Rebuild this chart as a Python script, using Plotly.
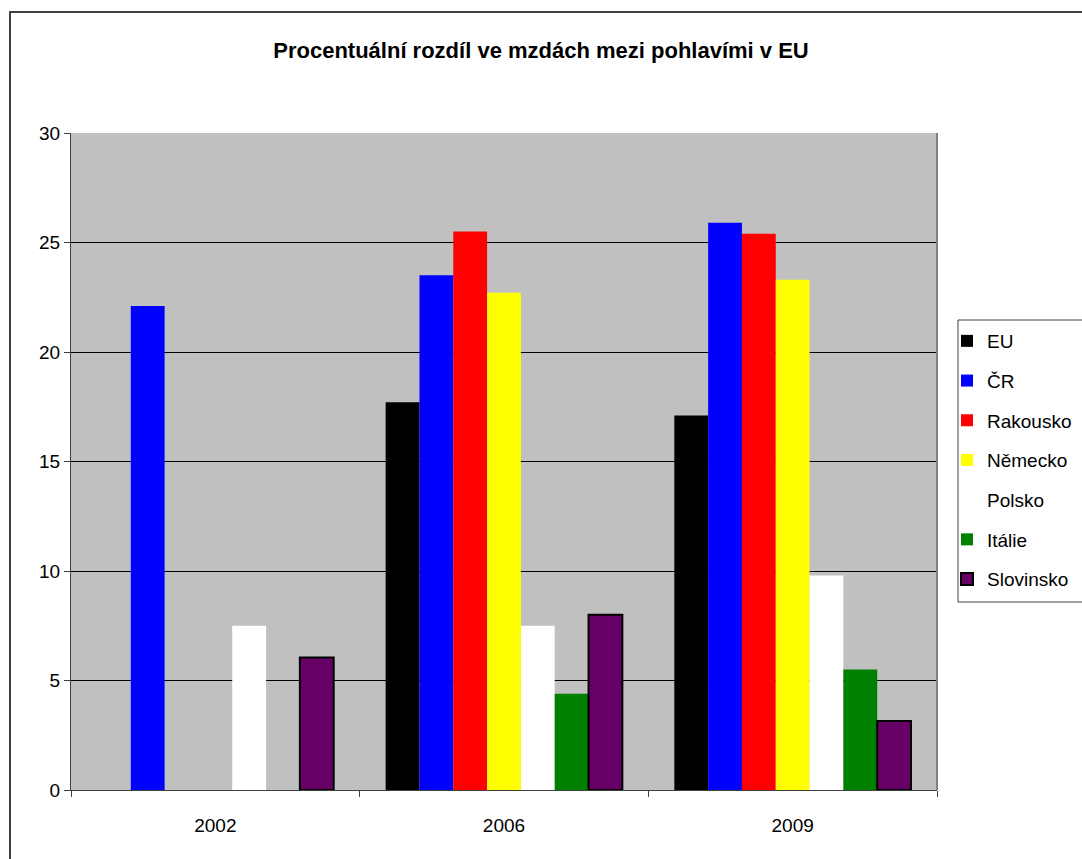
import plotly.graph_objects as go

years = ["2002", "2006", "2009"]
series_names = ["EU", "ČR", "Rakousko", "Německo", "Polsko", "Itálie", "Slovinsko"]
eu = [None, 17.7, 17.1]
cr = [22.1, 23.5, 25.9]
rakousko = [None, 25.5, 25.4]
nemecko = [None, 22.7, 23.3]
polsko = [7.5, 7.5, 9.8]
italie = [None, 4.4, 5.5]
slovinsko = [6.05, 8.0, 3.15]
colors = ["#000000", "#0000FF", "#FF0000", "#FFFF00", "#FFFFFF", "#008000", "#660066"]
values = [eu, cr, rakousko, nemecko, polsko, italie, slovinsko]

fig = go.Figure()
for i, (name, vals, col) in enumerate(zip(series_names, values, colors)):
    line = dict(color="#000000", width=2) if name == "Slovinsko" else dict(width=0)
    fig.add_trace(go.Bar(x=years, y=vals, name=name, legendgroup=name,
                         marker=dict(color=col, line=line)))

fig.update_layout(
    width=1082, height=859,
    barmode="group", bargap=0.18, bargroupgap=0,
    paper_bgcolor="white", plot_bgcolor="#C0C0C0",
    margin=dict(l=71, r=145, t=133, b=69, autoexpand=False),
    font=dict(family="Liberation Sans, Arial", color="black", size=19),
    title=dict(text="<b>Procentuální rozdíl ve mzdách mezi pohlavími v EU</b>",
               x=0.5, xref="container", y=1 - 50 / 859, yanchor="middle",
               font=dict(size=22)),
    legend=dict(x=(947 - 71) / 866, y=(790 - 322) / 657, xanchor="left", yanchor="top",
                borderwidth=0, tracegroupgap=12,
                font=dict(size=19), bgcolor="rgba(0,0,0,0)"),
    xaxis=dict(showline=True, linecolor="#404040", linewidth=1,
               ticks="outside", tickson="boundaries", ticklen=6, tickcolor="#404040",
               showgrid=False, tickfont=dict(size=19), ticklabelstandoff=18),
    yaxis=dict(range=[0, 30], dtick=5, showline=True, linecolor="#404040",
               linewidth=1, ticks="outside", ticklen=6, tickcolor="#404040",
               showgrid=True, gridcolor="#000000", gridwidth=1,
               tickfont=dict(size=19), zeroline=False),
    shapes=[dict(type="rect", xref="paper", yref="paper",
                 x0=(10 - 71) / 866, x1=1.3, y0=-0.3, y1=(790 - 12) / 657,
                 line=dict(color="#404040", width=2), layer="below"),
            dict(type="rect", xref="paper", yref="paper",
                 x0=(958 - 71) / 866, x1=1.3, y0=(790 - 602) / 657, y1=(790 - 320) / 657,
                 line=dict(color="#404040", width=1), fillcolor="white", layer="below"),
            dict(type="line", xref="paper", yref="paper", x0=1, x1=1, y0=0, y1=1,
                 line=dict(color="#808080", width=2))],
)

fig.write_html("out.html")
